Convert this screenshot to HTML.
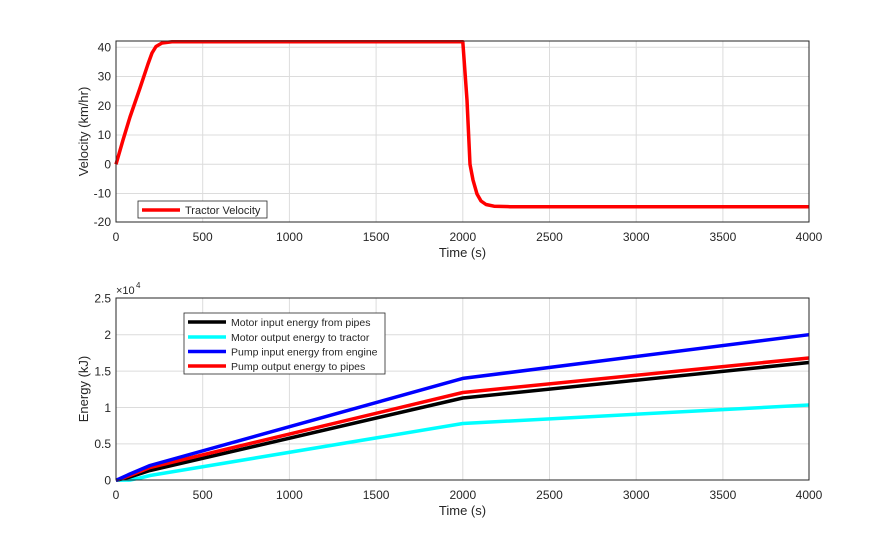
<!DOCTYPE html>
<html><head><meta charset="utf-8"><style>
body{margin:0;background:#fff}
text{font-family:"Liberation Sans",sans-serif;fill:#262626}
</style></head><body>
<svg width="895" height="540" xmlns="http://www.w3.org/2000/svg">
<rect width="895" height="540" fill="#fff"/>
<!-- TOP -->
<g stroke="#dcdcdc" stroke-width="1">
<line x1="202.7" y1="41" x2="202.7" y2="222"/><line x1="289.4" y1="41" x2="289.4" y2="222"/><line x1="376.1" y1="41" x2="376.1" y2="222"/><line x1="462.8" y1="41" x2="462.8" y2="222"/><line x1="549.5" y1="41" x2="549.5" y2="222"/><line x1="636.2" y1="41" x2="636.2" y2="222"/><line x1="722.9" y1="41" x2="722.9" y2="222"/>
<line x1="116" y1="47.3" x2="809" y2="47.3"/><line x1="116" y1="76.5" x2="809" y2="76.5"/><line x1="116" y1="105.8" x2="809" y2="105.8"/><line x1="116" y1="135" x2="809" y2="135"/><line x1="116" y1="164.3" x2="809" y2="164.3"/><line x1="116" y1="193.5" x2="809" y2="193.5"/>
</g>
<polyline fill="none" stroke="#ff0000" stroke-width="3.5" stroke-linejoin="round" points="116,164.3 123,140 130,117 140,88 148,64 152,53 156,46.5 162,43 172,41.8 462.8,41.8 467,100 470,164.3 473,180 477,194 481,201 486,204.5 494,206.2 510,206.7 809,206.7"/>
<rect x="116" y="41" width="693" height="181" fill="none" stroke="#262626" stroke-width="1"/>
<g font-size="12" text-anchor="end">
<text x="111" y="51.5">40</text><text x="111" y="80.5">30</text><text x="111" y="110">20</text><text x="111" y="139">10</text><text x="111" y="168.5">0</text><text x="111" y="197.5">-10</text><text x="111" y="226">-20</text>
</g>
<g font-size="12" text-anchor="middle">
<text x="116" y="241">0</text><text x="202.7" y="241">500</text><text x="289.4" y="241">1000</text><text x="376.1" y="241">1500</text><text x="462.8" y="241">2000</text><text x="549.5" y="241">2500</text><text x="636.2" y="241">3000</text><text x="722.9" y="241">3500</text><text x="809" y="241">4000</text>
<text x="462.5" y="257" font-size="13">Time (s)</text>
<text transform="translate(88,131.5) rotate(-90)" font-size="13">Velocity (km/hr)</text>
</g>
<rect x="138" y="201" width="129" height="17" fill="#fff" stroke="#262626" stroke-width="0.8"/>
<line x1="142" y1="210" x2="180" y2="210" stroke="#ff0000" stroke-width="3.5"/>
<text x="185" y="214" font-size="11">Tractor Velocity</text>
<!-- BOTTOM -->
<g stroke="#dcdcdc" stroke-width="1">
<line x1="202.7" y1="298" x2="202.7" y2="480"/><line x1="289.4" y1="298" x2="289.4" y2="480"/><line x1="376.1" y1="298" x2="376.1" y2="480"/><line x1="462.8" y1="298" x2="462.8" y2="480"/><line x1="549.5" y1="298" x2="549.5" y2="480"/><line x1="636.2" y1="298" x2="636.2" y2="480"/><line x1="722.9" y1="298" x2="722.9" y2="480"/>
<line x1="116" y1="334.7" x2="809" y2="334.7"/><line x1="116" y1="371.1" x2="809" y2="371.1"/><line x1="116" y1="407.5" x2="809" y2="407.5"/><line x1="116" y1="443.9" x2="809" y2="443.9"/>
</g>
<g fill="none" stroke-width="3.5" stroke-linejoin="round">
<polyline stroke="#00ffff" points="116,480.3 130,480 140,478 150,475.5 462.8,423.5 809,405"/>
<polyline stroke="#000000" points="116,480.3 130,477 150,470.5 462.8,398 809,362.5"/>
<polyline stroke="#ff0000" points="116,480.3 130,475.5 150,467.5 462.8,392.5 809,358"/>
<polyline stroke="#0000ff" points="116,480.3 130,474 150,465.5 462.8,378.4 809,334.7"/>
</g>
<rect x="116" y="298" width="693" height="182" fill="none" stroke="#262626" stroke-width="1"/>
<g font-size="12" text-anchor="end">
<text x="111" y="302.5">2.5</text><text x="111" y="339">2</text><text x="111" y="375.5">1.5</text><text x="111" y="412">1</text><text x="111" y="448">0.5</text><text x="111" y="484.5">0</text>
</g>
<text x="116" y="294" font-size="11">×10</text><text x="136" y="288" font-size="8">4</text>
<g font-size="12" text-anchor="middle">
<text x="116" y="499">0</text><text x="202.7" y="499">500</text><text x="289.4" y="499">1000</text><text x="376.1" y="499">1500</text><text x="462.8" y="499">2000</text><text x="549.5" y="499">2500</text><text x="636.2" y="499">3000</text><text x="722.9" y="499">3500</text><text x="809" y="499">4000</text>
<text x="462.5" y="515" font-size="13">Time (s)</text>
<text transform="translate(88,389) rotate(-90)" font-size="13">Energy (kJ)</text>
</g>
<rect x="184" y="313" width="201" height="61" fill="#fff" stroke="#262626" stroke-width="0.8"/>
<g stroke-width="3.5">
<line x1="188" y1="322" x2="226" y2="322" stroke="#000"/>
<line x1="188" y1="337" x2="226" y2="337" stroke="#00ffff"/>
<line x1="188" y1="351.5" x2="226" y2="351.5" stroke="#0000ff"/>
<line x1="188" y1="366" x2="226" y2="366" stroke="#ff0000"/>
</g>
<g font-size="10.5">
<text x="231" y="326">Motor input energy from pipes</text>
<text x="231" y="341">Motor output energy to tractor</text>
<text x="231" y="355.5">Pump input energy from engine</text>
<text x="231" y="370">Pump output energy to pipes</text>
</g>
</svg>
</body></html>
